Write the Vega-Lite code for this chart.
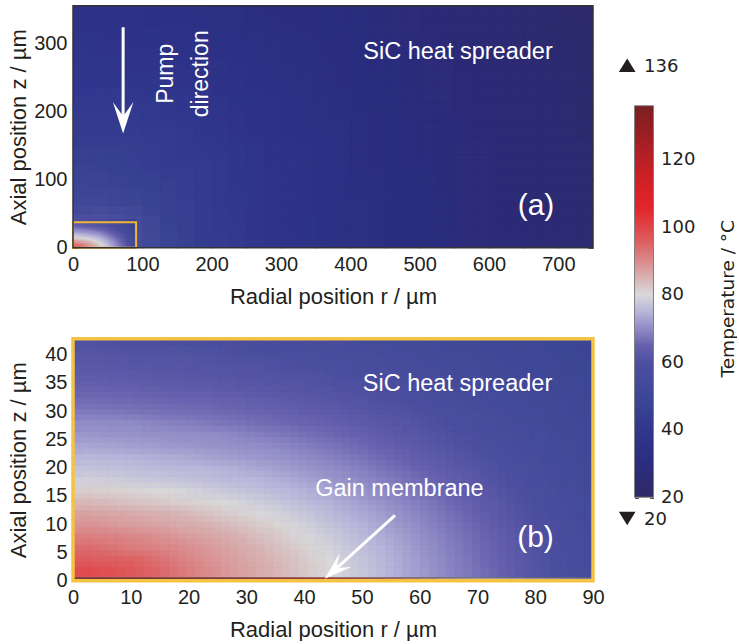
{
"$schema":"https://vega.github.io/schema/vega-lite/v6.json",
"padding":{"left":6,"top":4.75,"right":0,"bottom":0},
"background":"white",
"config":{"view":{"stroke":null},"axis":{"domain":false,"grid":false,"zindex":1,"minExtent":0,"tickColor":"#231f20","tickWidth":1,"tickSize":-5,"labelFont":"Liberation Sans","labelFontSize":20,"labelColor":"#231f20","titleFont":"Liberation Sans","titleFontSize":22,"titleFontWeight":"normal","titleColor":"#231f20","labelFlush":false,"labelOverlap":false},"text":{"font":"Liberation Sans"}},
"datasets":{
"strip":[{"r":0,"t":132},{"r":3,"t":131},{"r":6,"t":130},{"r":9,"t":130},{"r":12,"t":129},{"r":15,"t":127},{"r":18,"t":126},{"r":21,"t":125},{"r":24,"t":123},{"r":27,"t":121},{"r":30,"t":119},{"r":33,"t":116},{"r":36,"t":113},{"r":39,"t":109},{"r":42,"t":106},{"r":45,"t":103},{"r":48,"t":100},{"r":51,"t":97},{"r":54,"t":94},{"r":57,"t":91},{"r":60,"t":88},{"r":63,"t":85},{"r":66,"t":83},{"r":69,"t":81},{"r":72,"t":79},{"r":75,"t":77},{"r":78,"t":75},{"r":81,"t":74},{"r":84,"t":73},{"r":87,"t":72}],
"coarse":[
{"r":0,"z":0,"t":80},{"r":50,"z":0,"t":57},{"r":100,"z":0,"t":47.9},{"r":150,"z":0,"t":44},{"r":200,"z":0,"t":41.4},{"r":250,"z":0,"t":38.5},{"r":300,"z":0,"t":36.3},{"r":350,"z":0,"t":34.3},{"r":400,"z":0,"t":32.6},{"r":450,"z":0,"t":30.9},{"r":500,"z":0,"t":29.5},{"r":550,"z":0,"t":28.0},{"r":600,"z":0,"t":26.9},{"r":650,"z":0,"t":25.8},{"r":700,"z":0,"t":24.6},
{"r":0,"z":25,"t":60},{"r":50,"z":25,"t":55},{"r":100,"z":25,"t":47.1},{"r":150,"z":25,"t":43.7},{"r":200,"z":25,"t":41.2},{"r":250,"z":25,"t":38.4},{"r":300,"z":25,"t":36.1},{"r":350,"z":25,"t":34.3},{"r":400,"z":25,"t":32.5},{"r":450,"z":25,"t":30.9},{"r":500,"z":25,"t":29.4},{"r":550,"z":25,"t":28.0},{"r":600,"z":25,"t":26.9},{"r":650,"z":25,"t":25.8},{"r":700,"z":25,"t":24.6},
{"r":0,"z":50,"t":51.5},{"r":50,"z":50,"t":49.1},{"r":100,"z":50,"t":46},{"r":150,"z":50,"t":43.2},{"r":200,"z":50,"t":40.9},{"r":250,"z":50,"t":38.2},{"r":300,"z":50,"t":35.8},{"r":350,"z":50,"t":34.2},{"r":400,"z":50,"t":32.5},{"r":450,"z":50,"t":30.8},{"r":500,"z":50,"t":29.4},{"r":550,"z":50,"t":27.9},{"r":600,"z":50,"t":26.7},{"r":650,"z":50,"t":25.6},{"r":700,"z":50,"t":24.6},
{"r":0,"z":75,"t":48.4},{"r":50,"z":75,"t":47.2},{"r":100,"z":75,"t":44.8},{"r":150,"z":75,"t":42.7},{"r":200,"z":75,"t":40.3},{"r":250,"z":75,"t":37.8},{"r":300,"z":75,"t":35.7},{"r":350,"z":75,"t":34.0},{"r":400,"z":75,"t":32.3},{"r":450,"z":75,"t":30.7},{"r":500,"z":75,"t":29.3},{"r":550,"z":75,"t":27.9},{"r":600,"z":75,"t":26.7},{"r":650,"z":75,"t":25.6},{"r":700,"z":75,"t":24.5},
{"r":0,"z":100,"t":46.6},{"r":50,"z":100,"t":45.4},{"r":100,"z":100,"t":44.0},{"r":150,"z":100,"t":42.2},{"r":200,"z":100,"t":39.8},{"r":250,"z":100,"t":37.5},{"r":300,"z":100,"t":35.6},{"r":350,"z":100,"t":33.7},{"r":400,"z":100,"t":32.2},{"r":450,"z":100,"t":30.5},{"r":500,"z":100,"t":29.1},{"r":550,"z":100,"t":27.7},{"r":600,"z":100,"t":26.6},{"r":650,"z":100,"t":25.5},{"r":700,"z":100,"t":24.5},
{"r":0,"z":125,"t":44.9},{"r":50,"z":125,"t":44.3},{"r":100,"z":125,"t":43.0},{"r":150,"z":125,"t":41.3},{"r":200,"z":125,"t":39.1},{"r":250,"z":125,"t":37.0},{"r":300,"z":125,"t":35.1},{"r":350,"z":125,"t":33.5},{"r":400,"z":125,"t":31.9},{"r":450,"z":125,"t":30.4},{"r":500,"z":125,"t":29.0},{"r":550,"z":125,"t":27.6},{"r":600,"z":125,"t":26.6},{"r":650,"z":125,"t":25.5},{"r":700,"z":125,"t":24.4},
{"r":0,"z":150,"t":43.8},{"r":50,"z":150,"t":43.1},{"r":100,"z":150,"t":42.2},{"r":150,"z":150,"t":40.3},{"r":200,"z":150,"t":38.4},{"r":250,"z":150,"t":36.4},{"r":300,"z":150,"t":34.9},{"r":350,"z":150,"t":33.2},{"r":400,"z":150,"t":31.6},{"r":450,"z":150,"t":30.1},{"r":500,"z":150,"t":28.7},{"r":550,"z":150,"t":27.4},{"r":600,"z":150,"t":26.5},{"r":650,"z":150,"t":25.3},{"r":700,"z":150,"t":24.2},
{"r":0,"z":175,"t":42.7},{"r":50,"z":175,"t":42.3},{"r":100,"z":175,"t":41.0},{"r":150,"z":175,"t":39.3},{"r":200,"z":175,"t":37.7},{"r":250,"z":175,"t":35.8},{"r":300,"z":175,"t":34.3},{"r":350,"z":175,"t":32.9},{"r":400,"z":175,"t":31.4},{"r":450,"z":175,"t":30.0},{"r":500,"z":175,"t":28.6},{"r":550,"z":175,"t":27.3},{"r":600,"z":175,"t":26.3},{"r":650,"z":175,"t":25.2},{"r":700,"z":175,"t":24.1},
{"r":0,"z":200,"t":41.7},{"r":50,"z":200,"t":41.0},{"r":100,"z":200,"t":39.8},{"r":150,"z":200,"t":38.4},{"r":200,"z":200,"t":36.9},{"r":250,"z":200,"t":35.4},{"r":300,"z":200,"t":33.9},{"r":350,"z":200,"t":32.5},{"r":400,"z":200,"t":30.9},{"r":450,"z":200,"t":29.7},{"r":500,"z":200,"t":28.3},{"r":550,"z":200,"t":27.2},{"r":600,"z":200,"t":26.0},{"r":650,"z":200,"t":25.1},{"r":700,"z":200,"t":23.9},
{"r":0,"z":225,"t":40.2},{"r":50,"z":225,"t":39.7},{"r":100,"z":225,"t":38.6},{"r":150,"z":225,"t":37.5},{"r":200,"z":225,"t":36.1},{"r":250,"z":225,"t":34.9},{"r":300,"z":225,"t":33.3},{"r":350,"z":225,"t":31.9},{"r":400,"z":225,"t":30.7},{"r":450,"z":225,"t":29.3},{"r":500,"z":225,"t":28.0},{"r":550,"z":225,"t":26.9},{"r":600,"z":225,"t":25.9},{"r":650,"z":225,"t":24.9},{"r":700,"z":225,"t":23.8},
{"r":0,"z":250,"t":39.1},{"r":50,"z":250,"t":38.6},{"r":100,"z":250,"t":37.8},{"r":150,"z":250,"t":36.6},{"r":200,"z":250,"t":35.4},{"r":250,"z":250,"t":34.2},{"r":300,"z":250,"t":32.9},{"r":350,"z":250,"t":31.5},{"r":400,"z":250,"t":30.2},{"r":450,"z":250,"t":29.0},{"r":500,"z":250,"t":27.7},{"r":550,"z":250,"t":26.7},{"r":600,"z":250,"t":25.7},{"r":650,"z":250,"t":24.6},{"r":700,"z":250,"t":23.7},
{"r":0,"z":275,"t":37.9},{"r":50,"z":275,"t":37.5},{"r":100,"z":275,"t":36.7},{"r":150,"z":275,"t":35.8},{"r":200,"z":275,"t":34.7},{"r":250,"z":275,"t":33.5},{"r":300,"z":275,"t":32.3},{"r":350,"z":275,"t":31.1},{"r":400,"z":275,"t":29.8},{"r":450,"z":275,"t":28.6},{"r":500,"z":275,"t":27.4},{"r":550,"z":275,"t":26.5},{"r":600,"z":275,"t":25.5},{"r":650,"z":275,"t":24.5},{"r":700,"z":275,"t":23.5},
{"r":0,"z":300,"t":36.7},{"r":50,"z":300,"t":36.4},{"r":100,"z":300,"t":35.8},{"r":150,"z":300,"t":35.0},{"r":200,"z":300,"t":34.0},{"r":250,"z":300,"t":32.9},{"r":300,"z":300,"t":31.8},{"r":350,"z":300,"t":30.5},{"r":400,"z":300,"t":29.4},{"r":450,"z":300,"t":28.1},{"r":500,"z":300,"t":27.2},{"r":550,"z":300,"t":26.2},{"r":600,"z":300,"t":25.2},{"r":650,"z":300,"t":24.2},{"r":700,"z":300,"t":23.2},
{"r":0,"z":325,"t":35.7},{"r":50,"z":325,"t":35.4},{"r":100,"z":325,"t":34.9},{"r":150,"z":325,"t":34.2},{"r":200,"z":325,"t":33.3},{"r":250,"z":325,"t":32.2},{"r":300,"z":325,"t":31.2},{"r":350,"z":325,"t":30.1},{"r":400,"z":325,"t":29.0},{"r":450,"z":325,"t":27.9},{"r":500,"z":325,"t":26.9},{"r":550,"z":325,"t":25.9},{"r":600,"z":325,"t":24.9},{"r":650,"z":325,"t":24.1},{"r":700,"z":325,"t":23.1},
{"r":0,"z":350,"t":35.2},{"r":50,"z":350,"t":34.9},{"r":100,"z":350,"t":34.4},{"r":150,"z":350,"t":33.7},{"r":200,"z":350,"t":32.8},{"r":250,"z":350,"t":31.7},{"r":300,"z":350,"t":30.7},{"r":350,"z":350,"t":29.6},{"r":400,"z":350,"t":28.5},{"r":450,"z":350,"t":27.4},{"r":500,"z":350,"t":26.4},{"r":550,"z":350,"t":25.4},{"r":600,"z":350,"t":24.4},{"r":650,"z":350,"t":23.6},{"r":700,"z":350,"t":22.6}],
"fine":[
{"r":0,"z":0.5,"t":98.7},{"r":3,"z":0.5,"t":98.0},{"r":6,"z":0.5,"t":97.3},{"r":9,"z":0.5,"t":96.3},{"r":12,"z":0.5,"t":94.9},{"r":15,"z":0.5,"t":93.1},{"r":18,"z":0.5,"t":91.3},{"r":21,"z":0.5,"t":89.7},{"r":24,"z":0.5,"t":88.4},{"r":27,"z":0.5,"t":87.2},{"r":30,"z":0.5,"t":86.0},{"r":33,"z":0.5,"t":84.7},{"r":36,"z":0.5,"t":83.2},{"r":39,"z":0.5,"t":81.7},{"r":42,"z":0.5,"t":80.2},{"r":45,"z":0.5,"t":78.7},{"r":48,"z":0.5,"t":77.2},{"r":51,"z":0.5,"t":75.7},{"r":54,"z":0.5,"t":74.1},{"r":57,"z":0.5,"t":72.4},{"r":60,"z":0.5,"t":70.8},{"r":63,"z":0.5,"t":69.3},{"r":66,"z":0.5,"t":67.8},{"r":69,"z":0.5,"t":66.3},{"r":72,"z":0.5,"t":64.7},{"r":75,"z":0.5,"t":63.0},{"r":78,"z":0.5,"t":61.3},{"r":81,"z":0.5,"t":59.6},{"r":84,"z":0.5,"t":57.9},{"r":87,"z":0.5,"t":56.3},
{"r":0,"z":2.5,"t":96.1},{"r":3,"z":2.5,"t":95.7},{"r":6,"z":2.5,"t":95.3},{"r":9,"z":2.5,"t":94.8},{"r":12,"z":2.5,"t":93.3},{"r":15,"z":2.5,"t":91.8},{"r":18,"z":2.5,"t":90.3},{"r":21,"z":2.5,"t":89.0},{"r":24,"z":2.5,"t":87.8},{"r":27,"z":2.5,"t":86.6},{"r":30,"z":2.5,"t":85.5},{"r":33,"z":2.5,"t":84.1},{"r":36,"z":2.5,"t":82.7},{"r":39,"z":2.5,"t":81.2},{"r":42,"z":2.5,"t":79.8},{"r":45,"z":2.5,"t":78.3},{"r":48,"z":2.5,"t":76.8},{"r":51,"z":2.5,"t":75.4},{"r":54,"z":2.5,"t":73.8},{"r":57,"z":2.5,"t":72.2},{"r":60,"z":2.5,"t":70.5},{"r":63,"z":2.5,"t":69.0},{"r":66,"z":2.5,"t":67.5},{"r":69,"z":2.5,"t":66.0},{"r":72,"z":2.5,"t":64.5},{"r":75,"z":2.5,"t":62.8},{"r":78,"z":2.5,"t":61.1},{"r":81,"z":2.5,"t":59.4},{"r":84,"z":2.5,"t":57.7},{"r":87,"z":2.5,"t":56.1},
{"r":0,"z":4.5,"t":93.9},{"r":3,"z":4.5,"t":93.2},{"r":6,"z":4.5,"t":92.4},{"r":9,"z":4.5,"t":91.6},{"r":12,"z":4.5,"t":90.9},{"r":15,"z":4.5,"t":90.1},{"r":18,"z":4.5,"t":89.1},{"r":21,"z":4.5,"t":88.0},{"r":24,"z":4.5,"t":86.9},{"r":27,"z":4.5,"t":85.8},{"r":30,"z":4.5,"t":84.7},{"r":33,"z":4.5,"t":83.3},{"r":36,"z":4.5,"t":81.9},{"r":39,"z":4.5,"t":80.5},{"r":42,"z":4.5,"t":79.1},{"r":45,"z":4.5,"t":77.7},{"r":48,"z":4.5,"t":76.3},{"r":51,"z":4.5,"t":74.9},{"r":54,"z":4.5,"t":73.3},{"r":57,"z":4.5,"t":71.7},{"r":60,"z":4.5,"t":70.1},{"r":63,"z":4.5,"t":68.7},{"r":66,"z":4.5,"t":67.2},{"r":69,"z":4.5,"t":65.7},{"r":72,"z":4.5,"t":64.2},{"r":75,"z":4.5,"t":62.5},{"r":78,"z":4.5,"t":60.9},{"r":81,"z":4.5,"t":59.2},{"r":84,"z":4.5,"t":57.5},{"r":87,"z":4.5,"t":56.0},
{"r":0,"z":6.5,"t":91.5},{"r":3,"z":6.5,"t":91.0},{"r":6,"z":6.5,"t":90.6},{"r":9,"z":6.5,"t":90.1},{"r":12,"z":6.5,"t":89.3},{"r":15,"z":6.5,"t":88.4},{"r":18,"z":6.5,"t":87.5},{"r":21,"z":6.5,"t":86.6},{"r":24,"z":6.5,"t":85.7},{"r":27,"z":6.5,"t":84.7},{"r":30,"z":6.5,"t":83.4},{"r":33,"z":6.5,"t":82.1},{"r":36,"z":6.5,"t":80.7},{"r":39,"z":6.5,"t":79.4},{"r":42,"z":6.5,"t":78.1},{"r":45,"z":6.5,"t":76.8},{"r":48,"z":6.5,"t":75.5},{"r":51,"z":6.5,"t":74.1},{"r":54,"z":6.5,"t":72.6},{"r":57,"z":6.5,"t":71.1},{"r":60,"z":6.5,"t":69.6},{"r":63,"z":6.5,"t":68.2},{"r":66,"z":6.5,"t":66.7},{"r":69,"z":6.5,"t":65.3},{"r":72,"z":6.5,"t":63.8},{"r":75,"z":6.5,"t":62.1},{"r":78,"z":6.5,"t":60.5},{"r":81,"z":6.5,"t":58.9},{"r":84,"z":6.5,"t":57.2},{"r":87,"z":6.5,"t":55.7},
{"r":0,"z":8.5,"t":88.9},{"r":3,"z":8.5,"t":88.4},{"r":6,"z":8.5,"t":87.8},{"r":9,"z":8.5,"t":87.3},{"r":12,"z":8.5,"t":86.8},{"r":15,"z":8.5,"t":86.2},{"r":18,"z":8.5,"t":85.7},{"r":21,"z":8.5,"t":85.1},{"r":24,"z":8.5,"t":84.1},{"r":27,"z":8.5,"t":82.9},{"r":30,"z":8.5,"t":81.8},{"r":33,"z":8.5,"t":80.6},{"r":36,"z":8.5,"t":79.4},{"r":39,"z":8.5,"t":78.2},{"r":42,"z":8.5,"t":77.0},{"r":45,"z":8.5,"t":75.8},{"r":48,"z":8.5,"t":74.6},{"r":51,"z":8.5,"t":73.2},{"r":54,"z":8.5,"t":71.7},{"r":57,"z":8.5,"t":70.3},{"r":60,"z":8.5,"t":68.9},{"r":63,"z":8.5,"t":67.5},{"r":66,"z":8.5,"t":66.2},{"r":69,"z":8.5,"t":64.7},{"r":72,"z":8.5,"t":63.2},{"r":75,"z":8.5,"t":61.7},{"r":78,"z":8.5,"t":60.1},{"r":81,"z":8.5,"t":58.5},{"r":84,"z":8.5,"t":56.9},{"r":87,"z":8.5,"t":55.5},
{"r":0,"z":10.5,"t":87.1},{"r":3,"z":10.5,"t":86.6},{"r":6,"z":10.5,"t":86.2},{"r":9,"z":10.5,"t":85.8},{"r":12,"z":10.5,"t":85.3},{"r":15,"z":10.5,"t":84.8},{"r":18,"z":10.5,"t":83.9},{"r":21,"z":10.5,"t":82.9},{"r":24,"z":10.5,"t":81.9},{"r":27,"z":10.5,"t":81.0},{"r":30,"z":10.5,"t":80.0},{"r":33,"z":10.5,"t":79.0},{"r":36,"z":10.5,"t":77.9},{"r":39,"z":10.5,"t":76.9},{"r":42,"z":10.5,"t":75.8},{"r":45,"z":10.5,"t":74.7},{"r":48,"z":10.5,"t":73.4},{"r":51,"z":10.5,"t":72.1},{"r":54,"z":10.5,"t":70.8},{"r":57,"z":10.5,"t":69.5},{"r":60,"z":10.5,"t":68.2},{"r":63,"z":10.5,"t":66.8},{"r":66,"z":10.5,"t":65.5},{"r":69,"z":10.5,"t":64.1},{"r":72,"z":10.5,"t":62.6},{"r":75,"z":10.5,"t":61.1},{"r":78,"z":10.5,"t":59.6},{"r":81,"z":10.5,"t":58.0},{"r":84,"z":10.5,"t":56.5},{"r":87,"z":10.5,"t":55.1},
{"r":0,"z":12.5,"t":84.4},{"r":3,"z":12.5,"t":83.9},{"r":6,"z":12.5,"t":83.3},{"r":9,"z":12.5,"t":82.7},{"r":12,"z":12.5,"t":82.2},{"r":15,"z":12.5,"t":81.6},{"r":18,"z":12.5,"t":81.1},{"r":21,"z":12.5,"t":80.5},{"r":24,"z":12.5,"t":79.9},{"r":27,"z":12.5,"t":79.1},{"r":30,"z":12.5,"t":78.2},{"r":33,"z":12.5,"t":77.3},{"r":36,"z":12.5,"t":76.4},{"r":39,"z":12.5,"t":75.6},{"r":42,"z":12.5,"t":74.6},{"r":45,"z":12.5,"t":73.4},{"r":48,"z":12.5,"t":72.2},{"r":51,"z":12.5,"t":71.0},{"r":54,"z":12.5,"t":69.8},{"r":57,"z":12.5,"t":68.6},{"r":60,"z":12.5,"t":67.3},{"r":63,"z":12.5,"t":66.0},{"r":66,"z":12.5,"t":64.7},{"r":69,"z":12.5,"t":63.3},{"r":72,"z":12.5,"t":61.9},{"r":75,"z":12.5,"t":60.5},{"r":78,"z":12.5,"t":59.0},{"r":81,"z":12.5,"t":57.5},{"r":84,"z":12.5,"t":56.1},{"r":87,"z":12.5,"t":54.7},
{"r":0,"z":14.5,"t":81.5},{"r":3,"z":14.5,"t":81.2},{"r":6,"z":14.5,"t":80.9},{"r":9,"z":14.5,"t":80.5},{"r":12,"z":14.5,"t":80.2},{"r":15,"z":14.5,"t":79.7},{"r":18,"z":14.5,"t":79.0},{"r":21,"z":14.5,"t":78.4},{"r":24,"z":14.5,"t":77.7},{"r":27,"z":14.5,"t":77.1},{"r":30,"z":14.5,"t":76.4},{"r":33,"z":14.5,"t":75.8},{"r":36,"z":14.5,"t":75.1},{"r":39,"z":14.5,"t":74.1},{"r":42,"z":14.5,"t":73.1},{"r":45,"z":14.5,"t":72.0},{"r":48,"z":14.5,"t":71.0},{"r":51,"z":14.5,"t":69.9},{"r":54,"z":14.5,"t":68.7},{"r":57,"z":14.5,"t":67.5},{"r":60,"z":14.5,"t":66.3},{"r":63,"z":14.5,"t":65.1},{"r":66,"z":14.5,"t":63.8},{"r":69,"z":14.5,"t":62.6},{"r":72,"z":14.5,"t":61.3},{"r":75,"z":14.5,"t":59.8},{"r":78,"z":14.5,"t":58.4},{"r":81,"z":14.5,"t":56.9},{"r":84,"z":14.5,"t":55.6},{"r":87,"z":14.5,"t":54.3},
{"r":0,"z":16.5,"t":78.8},{"r":3,"z":16.5,"t":78.4},{"r":6,"z":16.5,"t":78.1},{"r":9,"z":16.5,"t":77.7},{"r":12,"z":16.5,"t":77.3},{"r":15,"z":16.5,"t":77.0},{"r":18,"z":16.5,"t":76.6},{"r":21,"z":16.5,"t":76.2},{"r":24,"z":16.5,"t":75.8},{"r":27,"z":16.5,"t":75.5},{"r":30,"z":16.5,"t":75.1},{"r":33,"z":16.5,"t":74.3},{"r":36,"z":16.5,"t":73.4},{"r":39,"z":16.5,"t":72.5},{"r":42,"z":16.5,"t":71.6},{"r":45,"z":16.5,"t":70.7},{"r":48,"z":16.5,"t":69.8},{"r":51,"z":16.5,"t":68.7},{"r":54,"z":16.5,"t":67.6},{"r":57,"z":16.5,"t":66.5},{"r":60,"z":16.5,"t":65.3},{"r":63,"z":16.5,"t":64.2},{"r":66,"z":16.5,"t":63.0},{"r":69,"z":16.5,"t":61.8},{"r":72,"z":16.5,"t":60.4},{"r":75,"z":16.5,"t":59.1},{"r":78,"z":16.5,"t":57.7},{"r":81,"z":16.5,"t":56.4},{"r":84,"z":16.5,"t":55.1},{"r":87,"z":16.5,"t":53.8},
{"r":0,"z":18.5,"t":76.9},{"r":3,"z":18.5,"t":76.6},{"r":6,"z":18.5,"t":76.4},{"r":9,"z":18.5,"t":76.1},{"r":12,"z":18.5,"t":75.9},{"r":15,"z":18.5,"t":75.6},{"r":18,"z":18.5,"t":75.4},{"r":21,"z":18.5,"t":75.1},{"r":24,"z":18.5,"t":74.7},{"r":27,"z":18.5,"t":73.9},{"r":30,"z":18.5,"t":73.2},{"r":33,"z":18.5,"t":72.5},{"r":36,"z":18.5,"t":71.8},{"r":39,"z":18.5,"t":71.1},{"r":42,"z":18.5,"t":70.3},{"r":45,"z":18.5,"t":69.5},{"r":48,"z":18.5,"t":68.5},{"r":51,"z":18.5,"t":67.4},{"r":54,"z":18.5,"t":66.4},{"r":57,"z":18.5,"t":65.3},{"r":60,"z":18.5,"t":64.3},{"r":63,"z":18.5,"t":63.2},{"r":66,"z":18.5,"t":62.1},{"r":69,"z":18.5,"t":61.0},{"r":72,"z":18.5,"t":59.6},{"r":75,"z":18.5,"t":58.3},{"r":78,"z":18.5,"t":57.0},{"r":81,"z":18.5,"t":55.8},{"r":84,"z":18.5,"t":54.6},{"r":87,"z":18.5,"t":53.3},
{"r":0,"z":20.5,"t":75.3},{"r":3,"z":20.5,"t":75.1},{"r":6,"z":20.5,"t":75.0},{"r":9,"z":20.5,"t":74.7},{"r":12,"z":20.5,"t":74.3},{"r":15,"z":20.5,"t":73.8},{"r":18,"z":20.5,"t":73.3},{"r":21,"z":20.5,"t":72.8},{"r":24,"z":20.5,"t":72.4},{"r":27,"z":20.5,"t":71.9},{"r":30,"z":20.5,"t":71.4},{"r":33,"z":20.5,"t":70.9},{"r":36,"z":20.5,"t":70.4},{"r":39,"z":20.5,"t":69.8},{"r":42,"z":20.5,"t":68.9},{"r":45,"z":20.5,"t":68.0},{"r":48,"z":20.5,"t":67.1},{"r":51,"z":20.5,"t":66.1},{"r":54,"z":20.5,"t":65.2},{"r":57,"z":20.5,"t":64.2},{"r":60,"z":20.5,"t":63.2},{"r":63,"z":20.5,"t":62.2},{"r":66,"z":20.5,"t":61.2},{"r":69,"z":20.5,"t":60.0},{"r":72,"z":20.5,"t":58.8},{"r":75,"z":20.5,"t":57.5},{"r":78,"z":20.5,"t":56.3},{"r":81,"z":20.5,"t":55.2},{"r":84,"z":20.5,"t":54.0},{"r":87,"z":20.5,"t":52.8},
{"r":0,"z":22.5,"t":73.2},{"r":3,"z":22.5,"t":72.9},{"r":6,"z":22.5,"t":72.6},{"r":9,"z":22.5,"t":72.3},{"r":12,"z":22.5,"t":72.0},{"r":15,"z":22.5,"t":71.7},{"r":18,"z":22.5,"t":71.4},{"r":21,"z":22.5,"t":71.1},{"r":24,"z":22.5,"t":70.8},{"r":27,"z":22.5,"t":70.5},{"r":30,"z":22.5,"t":70.2},{"r":33,"z":22.5,"t":69.8},{"r":36,"z":22.5,"t":69.0},{"r":39,"z":22.5,"t":68.2},{"r":42,"z":22.5,"t":67.4},{"r":45,"z":22.5,"t":66.6},{"r":48,"z":22.5,"t":65.8},{"r":51,"z":22.5,"t":64.9},{"r":54,"z":22.5,"t":64.0},{"r":57,"z":22.5,"t":63.1},{"r":60,"z":22.5,"t":62.2},{"r":63,"z":22.5,"t":61.3},{"r":66,"z":22.5,"t":60.3},{"r":69,"z":22.5,"t":59.1},{"r":72,"z":22.5,"t":57.9},{"r":75,"z":22.5,"t":56.8},{"r":78,"z":22.5,"t":55.7},{"r":81,"z":22.5,"t":54.6},{"r":84,"z":22.5,"t":53.5},{"r":87,"z":22.5,"t":52.5},
{"r":0,"z":24.5,"t":71.4},{"r":3,"z":24.5,"t":71.2},{"r":6,"z":24.5,"t":71.1},{"r":9,"z":24.5,"t":70.9},{"r":12,"z":24.5,"t":70.7},{"r":15,"z":24.5,"t":70.5},{"r":18,"z":24.5,"t":70.3},{"r":21,"z":24.5,"t":70.2},{"r":24,"z":24.5,"t":69.9},{"r":27,"z":24.5,"t":69.2},{"r":30,"z":24.5,"t":68.6},{"r":33,"z":24.5,"t":67.9},{"r":36,"z":24.5,"t":67.3},{"r":39,"z":24.5,"t":66.6},{"r":42,"z":24.5,"t":65.9},{"r":45,"z":24.5,"t":65.3},{"r":48,"z":24.5,"t":64.5},{"r":51,"z":24.5,"t":63.7},{"r":54,"z":24.5,"t":62.9},{"r":57,"z":24.5,"t":62.1},{"r":60,"z":24.5,"t":61.3},{"r":63,"z":24.5,"t":60.3},{"r":66,"z":24.5,"t":59.2},{"r":69,"z":24.5,"t":58.1},{"r":72,"z":24.5,"t":57.1},{"r":75,"z":24.5,"t":56.0},{"r":78,"z":24.5,"t":54.9},{"r":81,"z":24.5,"t":53.9},{"r":84,"z":24.5,"t":52.9},{"r":87,"z":24.5,"t":52.1},
{"r":0,"z":26.5,"t":70.2},{"r":3,"z":26.5,"t":70.1},{"r":6,"z":26.5,"t":70.0},{"r":9,"z":26.5,"t":69.8},{"r":12,"z":26.5,"t":69.3},{"r":15,"z":26.5,"t":68.9},{"r":18,"z":26.5,"t":68.4},{"r":21,"z":26.5,"t":68.0},{"r":24,"z":26.5,"t":67.5},{"r":27,"z":26.5,"t":67.1},{"r":30,"z":26.5,"t":66.6},{"r":33,"z":26.5,"t":66.2},{"r":36,"z":26.5,"t":65.7},{"r":39,"z":26.5,"t":65.3},{"r":42,"z":26.5,"t":64.7},{"r":45,"z":26.5,"t":64.0},{"r":48,"z":26.5,"t":63.3},{"r":51,"z":26.5,"t":62.6},{"r":54,"z":26.5,"t":61.9},{"r":57,"z":26.5,"t":61.2},{"r":60,"z":26.5,"t":60.3},{"r":63,"z":26.5,"t":59.3},{"r":66,"z":26.5,"t":58.3},{"r":69,"z":26.5,"t":57.3},{"r":72,"z":26.5,"t":56.3},{"r":75,"z":26.5,"t":55.3},{"r":78,"z":26.5,"t":54.3},{"r":81,"z":26.5,"t":53.2},{"r":84,"z":26.5,"t":52.5},{"r":87,"z":26.5,"t":51.8},
{"r":0,"z":28.5,"t":68.2},{"r":3,"z":28.5,"t":67.9},{"r":6,"z":28.5,"t":67.6},{"r":9,"z":28.5,"t":67.3},{"r":12,"z":28.5,"t":67.0},{"r":15,"z":28.5,"t":66.8},{"r":18,"z":28.5,"t":66.5},{"r":21,"z":28.5,"t":66.2},{"r":24,"z":28.5,"t":65.9},{"r":27,"z":28.5,"t":65.6},{"r":30,"z":28.5,"t":65.4},{"r":33,"z":28.5,"t":65.1},{"r":36,"z":28.5,"t":64.6},{"r":39,"z":28.5,"t":64.0},{"r":42,"z":28.5,"t":63.4},{"r":45,"z":28.5,"t":62.8},{"r":48,"z":28.5,"t":62.2},{"r":51,"z":28.5,"t":61.6},{"r":54,"z":28.5,"t":61.0},{"r":57,"z":28.5,"t":60.1},{"r":60,"z":28.5,"t":59.2},{"r":63,"z":28.5,"t":58.3},{"r":66,"z":28.5,"t":57.3},{"r":69,"z":28.5,"t":56.4},{"r":72,"z":28.5,"t":55.5},{"r":75,"z":28.5,"t":54.5},{"r":78,"z":28.5,"t":53.6},{"r":81,"z":28.5,"t":52.7},{"r":84,"z":28.5,"t":52.1},{"r":87,"z":28.5,"t":51.4},
{"r":0,"z":30.5,"t":66.4},{"r":3,"z":30.5,"t":66.2},{"r":6,"z":30.5,"t":66.1},{"r":9,"z":30.5,"t":65.9},{"r":12,"z":30.5,"t":65.7},{"r":15,"z":30.5,"t":65.5},{"r":18,"z":30.5,"t":65.4},{"r":21,"z":30.5,"t":65.2},{"r":24,"z":30.5,"t":65.0},{"r":27,"z":30.5,"t":64.6},{"r":30,"z":30.5,"t":64.1},{"r":33,"z":30.5,"t":63.6},{"r":36,"z":30.5,"t":63.2},{"r":39,"z":30.5,"t":62.7},{"r":42,"z":30.5,"t":62.2},{"r":45,"z":30.5,"t":61.7},{"r":48,"z":30.5,"t":61.3},{"r":51,"z":30.5,"t":60.6},{"r":54,"z":30.5,"t":59.8},{"r":57,"z":30.5,"t":58.9},{"r":60,"z":30.5,"t":58.1},{"r":63,"z":30.5,"t":57.3},{"r":66,"z":30.5,"t":56.4},{"r":69,"z":30.5,"t":55.6},{"r":72,"z":30.5,"t":54.7},{"r":75,"z":30.5,"t":53.8},{"r":78,"z":30.5,"t":52.9},{"r":81,"z":30.5,"t":52.3},{"r":84,"z":30.5,"t":51.6},{"r":87,"z":30.5,"t":51.0},
{"r":0,"z":32.5,"t":65.2},{"r":3,"z":32.5,"t":65.1},{"r":6,"z":32.5,"t":65.0},{"r":9,"z":32.5,"t":64.7},{"r":12,"z":32.5,"t":64.4},{"r":15,"z":32.5,"t":64.1},{"r":18,"z":32.5,"t":63.8},{"r":21,"z":32.5,"t":63.5},{"r":24,"z":32.5,"t":63.2},{"r":27,"z":32.5,"t":62.9},{"r":30,"z":32.5,"t":62.5},{"r":33,"z":32.5,"t":62.2},{"r":36,"z":32.5,"t":61.9},{"r":39,"z":32.5,"t":61.6},{"r":42,"z":32.5,"t":61.3},{"r":45,"z":32.5,"t":60.9},{"r":48,"z":32.5,"t":60.2},{"r":51,"z":32.5,"t":59.5},{"r":54,"z":32.5,"t":58.7},{"r":57,"z":32.5,"t":57.9},{"r":60,"z":32.5,"t":57.2},{"r":63,"z":32.5,"t":56.4},{"r":66,"z":32.5,"t":55.6},{"r":69,"z":32.5,"t":54.8},{"r":72,"z":32.5,"t":53.9},{"r":75,"z":32.5,"t":53.1},{"r":78,"z":32.5,"t":52.5},{"r":81,"z":32.5,"t":51.8},{"r":84,"z":32.5,"t":51.2},{"r":87,"z":32.5,"t":50.6},
{"r":0,"z":34.5,"t":63.8},{"r":3,"z":34.5,"t":63.6},{"r":6,"z":34.5,"t":63.4},{"r":9,"z":34.5,"t":63.1},{"r":12,"z":34.5,"t":62.9},{"r":15,"z":34.5,"t":62.7},{"r":18,"z":34.5,"t":62.5},{"r":21,"z":34.5,"t":62.3},{"r":24,"z":34.5,"t":62.1},{"r":27,"z":34.5,"t":61.8},{"r":30,"z":34.5,"t":61.6},{"r":33,"z":34.5,"t":61.4},{"r":36,"z":34.5,"t":61.2},{"r":39,"z":34.5,"t":60.9},{"r":42,"z":34.5,"t":60.2},{"r":45,"z":34.5,"t":59.6},{"r":48,"z":34.5,"t":58.9},{"r":51,"z":34.5,"t":58.3},{"r":54,"z":34.5,"t":57.7},{"r":57,"z":34.5,"t":57.0},{"r":60,"z":34.5,"t":56.3},{"r":63,"z":34.5,"t":55.5},{"r":66,"z":34.5,"t":54.7},{"r":69,"z":34.5,"t":54.0},{"r":72,"z":34.5,"t":53.2},{"r":75,"z":34.5,"t":52.6},{"r":78,"z":34.5,"t":52.0},{"r":81,"z":34.5,"t":51.4},{"r":84,"z":34.5,"t":50.8},{"r":87,"z":34.5,"t":50.2},
{"r":0,"z":36.5,"t":62.7},{"r":3,"z":36.5,"t":62.5},{"r":6,"z":36.5,"t":62.4},{"r":9,"z":36.5,"t":62.2},{"r":12,"z":36.5,"t":62.0},{"r":15,"z":36.5,"t":61.9},{"r":18,"z":36.5,"t":61.7},{"r":21,"z":36.5,"t":61.5},{"r":24,"z":36.5,"t":61.4},{"r":27,"z":36.5,"t":61.2},{"r":30,"z":36.5,"t":61.0},{"r":33,"z":36.5,"t":60.6},{"r":36,"z":36.5,"t":60.1},{"r":39,"z":36.5,"t":59.5},{"r":42,"z":36.5,"t":59.0},{"r":45,"z":36.5,"t":58.4},{"r":48,"z":36.5,"t":57.9},{"r":51,"z":36.5,"t":57.3},{"r":54,"z":36.5,"t":56.7},{"r":57,"z":36.5,"t":56.0},{"r":60,"z":36.5,"t":55.3},{"r":63,"z":36.5,"t":54.6},{"r":66,"z":36.5,"t":53.9},{"r":69,"z":36.5,"t":53.2},{"r":72,"z":36.5,"t":52.6},{"r":75,"z":36.5,"t":52.1},{"r":78,"z":36.5,"t":51.5},{"r":81,"z":36.5,"t":50.9},{"r":84,"z":36.5,"t":50.4},{"r":87,"z":36.5,"t":49.8},
{"r":0,"z":38.5,"t":62.0},{"r":3,"z":38.5,"t":61.9},{"r":6,"z":38.5,"t":61.7},{"r":9,"z":38.5,"t":61.6},{"r":12,"z":38.5,"t":61.4},{"r":15,"z":38.5,"t":61.3},{"r":18,"z":38.5,"t":61.1},{"r":21,"z":38.5,"t":60.8},{"r":24,"z":38.5,"t":60.4},{"r":27,"z":38.5,"t":60.0},{"r":30,"z":38.5,"t":59.6},{"r":33,"z":38.5,"t":59.1},{"r":36,"z":38.5,"t":58.7},{"r":39,"z":38.5,"t":58.3},{"r":42,"z":38.5,"t":57.8},{"r":45,"z":38.5,"t":57.4},{"r":48,"z":38.5,"t":57.0},{"r":51,"z":38.5,"t":56.4},{"r":54,"z":38.5,"t":55.7},{"r":57,"z":38.5,"t":55.1},{"r":60,"z":38.5,"t":54.4},{"r":63,"z":38.5,"t":53.8},{"r":66,"z":38.5,"t":53.2},{"r":69,"z":38.5,"t":52.6},{"r":72,"z":38.5,"t":52.1},{"r":75,"z":38.5,"t":51.5},{"r":78,"z":38.5,"t":51.0},{"r":81,"z":38.5,"t":50.5},{"r":84,"z":38.5,"t":50.0},{"r":87,"z":38.5,"t":49.4},
{"r":0,"z":40.5,"t":60.8},{"r":3,"z":40.5,"t":60.5},{"r":6,"z":40.5,"t":60.2},{"r":9,"z":40.5,"t":59.9},{"r":12,"z":40.5,"t":59.7},{"r":15,"z":40.5,"t":59.4},{"r":18,"z":40.5,"t":59.2},{"r":21,"z":40.5,"t":58.9},{"r":24,"z":40.5,"t":58.6},{"r":27,"z":40.5,"t":58.4},{"r":30,"z":40.5,"t":58.1},{"r":33,"z":40.5,"t":57.8},{"r":36,"z":40.5,"t":57.6},{"r":39,"z":40.5,"t":57.3},{"r":42,"z":40.5,"t":57.0},{"r":45,"z":40.5,"t":56.5},{"r":48,"z":40.5,"t":55.9},{"r":51,"z":40.5,"t":55.4},{"r":54,"z":40.5,"t":54.8},{"r":57,"z":40.5,"t":54.3},{"r":60,"z":40.5,"t":53.7},{"r":63,"z":40.5,"t":53.1},{"r":66,"z":40.5,"t":52.6},{"r":69,"z":40.5,"t":52.1},{"r":72,"z":40.5,"t":51.6},{"r":75,"z":40.5,"t":51.1},{"r":78,"z":40.5,"t":50.6},{"r":81,"z":40.5,"t":50.1},{"r":84,"z":40.5,"t":49.5},{"r":87,"z":40.5,"t":48.9}]
},
"hconcat":[
{"vconcat":[
{"width":520,"height":242,"view":{"fill":"#2d3186","stroke":null},
"layer":[
{"data":{"name":"coarse"},"mark":{"type":"rect","binSpacing":0,"clip":true,"strokeWidth":0.6},
"encoding":{
"x":{"field":"r","type":"quantitative","bin":{"binned":true,"step":50},"scale":{"domain":[0,750],"nice":false,"zero":false},"axis":{"orient":"bottom","values":[0,100,200,300,400,500,600,700],"labelBaseline":"alphabetic","labelPadding":28.2,"title":"Radial position r / µm","titleBaseline":"alphabetic","titleY":55.8}},
"y":{"field":"z","type":"quantitative","bin":{"binned":true,"step":25},"scale":{"domain":[0,355],"nice":false,"zero":false},"axis":{"orient":"left","values":[0,100,200,300],"labelPadding":11,"title":"Axial position z / µm","titleBaseline":"alphabetic","titleX":-48}},
"color":{"field":"t","type":"quantitative","legend":null,"scale":{"type":"linear","domain":[20,30,40,50,60,65,70,75,80,85,90,95,100,106,115,125,136],"range":["#2e2a66","#2b2c7e","#30378d","#3d4796","#4d4fa0","#6661ae","#908bc6","#b7b5da","#d9d9da","#d9b3b3","#da8a8b","#dd6466","#e04448","#e3242b","#cc2026","#a51f24","#7b1f22"],"interpolate":"rgb","clamp":true,"zero":false,"nice":false}},
"stroke":{"field":"t","type":"quantitative","legend":null,"scale":{"type":"linear","domain":[20,30,40,50,60,65,70,75,80,85,90,95,100,106,115,125,136],"range":["#2e2a66","#2b2c7e","#30378d","#3d4796","#4d4fa0","#6661ae","#908bc6","#b7b5da","#d9d9da","#d9b3b3","#da8a8b","#dd6466","#e04448","#e3242b","#cc2026","#a51f24","#7b1f22"],"interpolate":"rgb","clamp":true,"zero":false,"nice":false}}
}},
{"data":{"name":"coarse"},"mark":{"type":"rect","binSpacing":0,"clip":true,"strokeWidth":0,"opacity":0.5,"xOffset":17.33},
"encoding":{"x":{"field":"r","type":"quantitative","bin":{"binned":true,"step":50},"axis":null},"y":{"field":"z","type":"quantitative","bin":{"binned":true,"step":25},"axis":null},"color":{"field":"t","type":"quantitative","legend":null}}},
{"data":{"name":"coarse"},"mark":{"type":"rect","binSpacing":0,"clip":true,"strokeWidth":0,"opacity":0.3333,"yOffset":-8.52},
"encoding":{"x":{"field":"r","type":"quantitative","bin":{"binned":true,"step":50},"axis":null},"y":{"field":"z","type":"quantitative","bin":{"binned":true,"step":25},"axis":null},"color":{"field":"t","type":"quantitative","legend":null}}},
{"data":{"name":"coarse"},"mark":{"type":"rect","binSpacing":0,"clip":true,"strokeWidth":0,"opacity":0.25,"xOffset":17.33,"yOffset":-8.52},
"encoding":{"x":{"field":"r","type":"quantitative","bin":{"binned":true,"step":50},"axis":null},"y":{"field":"z","type":"quantitative","bin":{"binned":true,"step":25},"axis":null},"color":{"field":"t","type":"quantitative","legend":null}}},
{"data":{"name":"fine"},"mark":{"type":"rect","binSpacing":0,"strokeWidth":0.6},
"encoding":{
"x":{"field":"r","type":"quantitative","bin":{"binned":true,"step":3},"axis":{"orient":"top","values":[0,50,100,150,200,250,300,350,400,450,500,550,600,650,700],"labels":false,"title":null}},
"y":{"field":"z","type":"quantitative","bin":{"binned":true,"step":2},"axis":{"orient":"right","values":[0,50,100,150,200,250,300,350],"labels":false,"title":null}},
"color":{"field":"t","type":"quantitative","legend":null},
"stroke":{"field":"t","type":"quantitative","legend":null}
}},
{"data":{"values":[{}]},"mark":{"type":"rect","fillOpacity":0,"stroke":"#f2b632","strokeWidth":2},
"encoding":{"x":{"datum":0,"type":"quantitative","axis":{"orient":"bottom","values":[50,150,250,350,450,550,650],"labels":false,"title":null}},"x2":{"datum":91},"y":{"datum":0,"type":"quantitative","axis":{"orient":"left","values":[50,150,250,350],"labels":false,"title":null}},"y2":{"datum":37.5}}},
{"data":{"values":[{}]},"mark":{"type":"rule","color":"white","strokeWidth":3},
"encoding":{"x":{"datum":72.3,"type":"quantitative","axis":null},"y":{"datum":323.5,"type":"quantitative","axis":null},"y2":{"datum":192}}},
{"data":{"values":[{}]},"mark":{"type":"point","shape":"M0,1L-0.65,-1L0,-0.1L0.65,-1Z","size":998,"filled":true,"color":"white","opacity":1,"strokeWidth":0},
"encoding":{"x":{"datum":72.3,"type":"quantitative","axis":null},"y":{"datum":190.7,"type":"quantitative","axis":null}}},
{"data":{"values":[{}]},"mark":{"type":"text","text":["Pump","direction"],"angle":270,"lineHeight":34.5,"fontSize":23,"align":"center","baseline":"alphabetic","color":"white"},
"encoding":{"x":{"datum":144.95,"type":"quantitative","axis":null},"y":{"datum":255.2,"type":"quantitative","axis":null}}},
{"data":{"values":[{}]},"mark":{"type":"text","text":"SiC heat spreader","fontSize":23.5,"align":"center","baseline":"alphabetic","color":"white"},
"encoding":{"x":{"datum":555.3,"type":"quantitative","axis":null},"y":{"datum":277.5,"type":"quantitative","axis":null}}},
{"data":{"values":[{}]},"mark":{"type":"text","text":"(a)","fontSize":30,"align":"center","baseline":"alphabetic","color":"white"},
"encoding":{"x":{"datum":667.8,"type":"quantitative","axis":null},"y":{"datum":47.7,"type":"quantitative","axis":null}}},
{"data":{"values":[{}]},"mark":{"type":"rect","fillOpacity":0,"stroke":"#333333","strokeWidth":1.5},
"encoding":{"x":{"datum":0,"type":"quantitative","axis":null},"x2":{"datum":750},"y":{"datum":0,"type":"quantitative","axis":null},"y2":{"datum":355}}}
],
"resolve":{"axis":{"x":"independent","y":"independent"}}
},
{"width":520,"height":242,"view":{"fill":"#4c4c9e","stroke":null},
"layer":[
{"data":{"name":"fine"},"mark":{"type":"rect","binSpacing":0,"strokeWidth":0.6},
"encoding":{
"x":{"field":"r","type":"quantitative","bin":{"binned":true,"step":3},"scale":{"domain":[0,90],"nice":false,"zero":false},"axis":{"orient":"bottom","values":[0,10,20,30,40,50,60,70,80,90],"labelBaseline":"alphabetic","labelPadding":28.2,"title":"Radial position r / µm","titleBaseline":"alphabetic","titleY":55.8}},
"y":{"field":"z","type":"quantitative","bin":{"binned":true,"step":2},"scale":{"domain":[0,42.8],"nice":false,"zero":false},"axis":{"orient":"left","values":[0,5,10,15,20,25,30,35,40],"labelPadding":11,"title":"Axial position z / µm","titleBaseline":"alphabetic","titleX":-48}},
"color":{"field":"t","type":"quantitative","legend":null,"scale":{"type":"linear","domain":[20,30,40,50,60,65,70,75,80,85,90,95,100,106,115,125,136],"range":["#2e2a66","#2b2c7e","#30378d","#3d4796","#4d4fa0","#6661ae","#908bc6","#b7b5da","#d9d9da","#d9b3b3","#da8a8b","#dd6466","#e04448","#e3242b","#cc2026","#a51f24","#7b1f22"],"interpolate":"rgb","clamp":true,"zero":false,"nice":false}},
"stroke":{"field":"t","type":"quantitative","legend":null,"scale":{"type":"linear","domain":[20,30,40,50,60,65,70,75,80,85,90,95,100,106,115,125,136],"range":["#2e2a66","#2b2c7e","#30378d","#3d4796","#4d4fa0","#6661ae","#908bc6","#b7b5da","#d9d9da","#d9b3b3","#da8a8b","#dd6466","#e04448","#e3242b","#cc2026","#a51f24","#7b1f22"],"interpolate":"rgb","clamp":true,"zero":false,"nice":false}}
}},
{"data":{"name":"fine"},"mark":{"type":"rect","binSpacing":0,"clip":true,"strokeWidth":0,"opacity":0.5,"xOffset":8.667},
"encoding":{"x":{"field":"r","type":"quantitative","bin":{"binned":true,"step":3},"axis":null},"y":{"field":"z","type":"quantitative","bin":{"binned":true,"step":2},"axis":null},"color":{"field":"t","type":"quantitative","legend":null}}},
{"data":{"name":"fine"},"mark":{"type":"rect","binSpacing":0,"clip":true,"strokeWidth":0,"opacity":0.3333,"yOffset":-5.654},
"encoding":{"x":{"field":"r","type":"quantitative","bin":{"binned":true,"step":3},"axis":null},"y":{"field":"z","type":"quantitative","bin":{"binned":true,"step":2},"axis":null},"color":{"field":"t","type":"quantitative","legend":null}}},
{"data":{"name":"fine"},"mark":{"type":"rect","binSpacing":0,"clip":true,"strokeWidth":0,"opacity":0.25,"xOffset":8.667,"yOffset":-5.654},
"encoding":{"x":{"field":"r","type":"quantitative","bin":{"binned":true,"step":3},"axis":null},"y":{"field":"z","type":"quantitative","bin":{"binned":true,"step":2},"axis":null},"color":{"field":"t","type":"quantitative","legend":null}}},
{"data":{"name":"strip"},"mark":{"type":"rect","binSpacing":0,"strokeWidth":0.6},
"encoding":{
"x":{"field":"r","type":"quantitative","bin":{"binned":true,"step":3},"axis":{"orient":"top","values":[0,5,10,15,20,25,30,35,40,45,50,55,60,65,70,75,80,85,90],"labels":false,"title":null}},
"y":{"datum":0,"type":"quantitative","axis":{"orient":"right","values":[0,2.5,5,7.5,10,12.5,15,17.5,20,22.5,25,27.5,30,32.5,35,37.5,40,42.5],"labels":false,"title":null}},
"y2":{"datum":0.5},
"color":{"field":"t","type":"quantitative","legend":null},
"stroke":{"field":"t","type":"quantitative","legend":null}
}},
{"data":{"values":[{}]},"mark":{"type":"rule","color":"#555555","strokeWidth":1},
"encoding":{"y":{"datum":0.5,"type":"quantitative","axis":null}}},
{"data":{"values":[{}]},"mark":{"type":"rule","color":"white","strokeWidth":3},
"encoding":{"x":{"datum":55.73,"type":"quantitative","axis":null},"y":{"datum":11.58,"type":"quantitative","axis":null},"x2":{"datum":45.4},"y2":{"datum":2.03}}},
{"data":{"values":[{}]},"mark":{"type":"point","shape":"M0,1L-0.65,-1L0,-0.1L0.65,-1Z","size":800,"angle":48,"filled":true,"color":"white","opacity":1,"strokeWidth":0},
"encoding":{"x":{"datum":45.4,"type":"quantitative","axis":null},"y":{"datum":2.03,"type":"quantitative","axis":null}}},
{"data":{"values":[{}]},"mark":{"type":"text","text":"SiC heat spreader","fontSize":23.5,"align":"center","baseline":"alphabetic","color":"white"},
"encoding":{"x":{"datum":66.55,"type":"quantitative","axis":null},"y":{"datum":33.5,"type":"quantitative","axis":null}}},
{"data":{"values":[{}]},"mark":{"type":"text","text":"Gain membrane","fontSize":23.5,"align":"center","baseline":"alphabetic","color":"white"},
"encoding":{"x":{"datum":56.5,"type":"quantitative","axis":null},"y":{"datum":15.0,"type":"quantitative","axis":null}}},
{"data":{"values":[{}]},"mark":{"type":"text","text":"(b)","fontSize":30,"align":"center","baseline":"alphabetic","color":"white"},
"encoding":{"x":{"datum":80.05,"type":"quantitative","axis":null},"y":{"datum":5.9,"type":"quantitative","axis":null}}},
{"data":{"values":[{}]},"mark":{"type":"rect","fillOpacity":0,"stroke":"#f5c342","strokeWidth":3.5},
"encoding":{"x":{"datum":0,"type":"quantitative","axis":{"orient":"bottom","values":[5,15,25,35,45,55,65,75,85],"labels":false,"title":null}},"x2":{"datum":90},"y":{"datum":0,"type":"quantitative","axis":{"orient":"left","values":[2.5,7.5,12.5,17.5,22.5,27.5,32.5,37.5,42.5],"labels":false,"title":null}},"y2":{"datum":42.8}}}
],
"resolve":{"axis":{"x":"independent","y":"independent"}}
}
],"spacing":29},
{"width":19,"height":575,
"layer":[
{"data":{"values":[{}]},"mark":{"type":"rect","fill":{"gradient":"linear","x1":0,"y1":1,"x2":0,"y2":0,"stops":[{"offset":0,"color":"#2e2a66"},{"offset":0.0862,"color":"#2b2c7e"},{"offset":0.1724,"color":"#30378d"},{"offset":0.2586,"color":"#3d4796"},{"offset":0.3448,"color":"#4d4fa0"},{"offset":0.3879,"color":"#6661ae"},{"offset":0.431,"color":"#908bc6"},{"offset":0.4741,"color":"#b7b5da"},{"offset":0.5172,"color":"#d9d9da"},{"offset":0.5603,"color":"#d9b3b3"},{"offset":0.6034,"color":"#da8a8b"},{"offset":0.6466,"color":"#dd6466"},{"offset":0.6897,"color":"#e04448"},{"offset":0.7414,"color":"#e3242b"},{"offset":0.819,"color":"#cc2026"},{"offset":0.9052,"color":"#a51f24"},{"offset":1,"color":"#7b1f22"}]},"stroke":"#808080","strokeWidth":1},
"encoding":{
"x":{"datum":0,"type":"quantitative","scale":{"domain":[0,1],"nice":false,"zero":false},"axis":null},
"x2":{"datum":1},
"y":{"datum":20,"type":"quantitative","scale":{"domain":[-4.74,165.63],"nice":false,"zero":false},"axis":{"orient":"right","values":[20,40,60,80,100,120],"tickSize":-4,"labelFont":"DejaVu Sans","labelFontSize":18,"labelPadding":11,"labelBaseline":"middle","title":"Temperature / °C","titleFont":"DejaVu Sans","titleFontSize":18.5,"titleAngle":270,"titleBaseline":"alphabetic","titleAlign":"center","titleX":80,"titleY":292.5}},
"y2":{"datum":136}
}},
{"data":{"values":[{}]},"mark":{"type":"point","shape":"M0,-0.8L1,0.8L-1,0.8Z","size":279,"filled":true,"color":"#231f20","opacity":1,"strokeWidth":0},
"encoding":{"x":{"datum":-0.384,"type":"quantitative","axis":null},"y":{"datum":148.0,"type":"quantitative","axis":{"orient":"left","values":[20,40,60,80,100,120],"tickSize":-4,"labels":false,"title":null}}}},
{"data":{"values":[{}]},"mark":{"type":"text","text":"136","font":"DejaVu Sans","fontSize":18,"align":"left","baseline":"alphabetic","color":"#231f20"},
"encoding":{"x":{"datum":0.5,"type":"quantitative","axis":null},"y":{"datum":146.0,"type":"quantitative","axis":null}}},
{"data":{"values":[{}]},"mark":{"type":"point","shape":"M0,0.8L1,-0.8L-1,-0.8Z","size":279,"filled":true,"color":"#231f20","opacity":1,"strokeWidth":0},
"encoding":{"x":{"datum":-0.384,"type":"quantitative","axis":null},"y":{"datum":13.69,"type":"quantitative","axis":null}}},
{"data":{"values":[{}]},"mark":{"type":"text","text":"20","font":"DejaVu Sans","fontSize":18,"align":"left","baseline":"alphabetic","color":"#231f20"},
"encoding":{"x":{"datum":0.5,"type":"quantitative","axis":null},"y":{"datum":11.7,"type":"quantitative","axis":null}}}
],
"resolve":{"axis":{"y":"independent"}}
}
],
"spacing":13.5
}
